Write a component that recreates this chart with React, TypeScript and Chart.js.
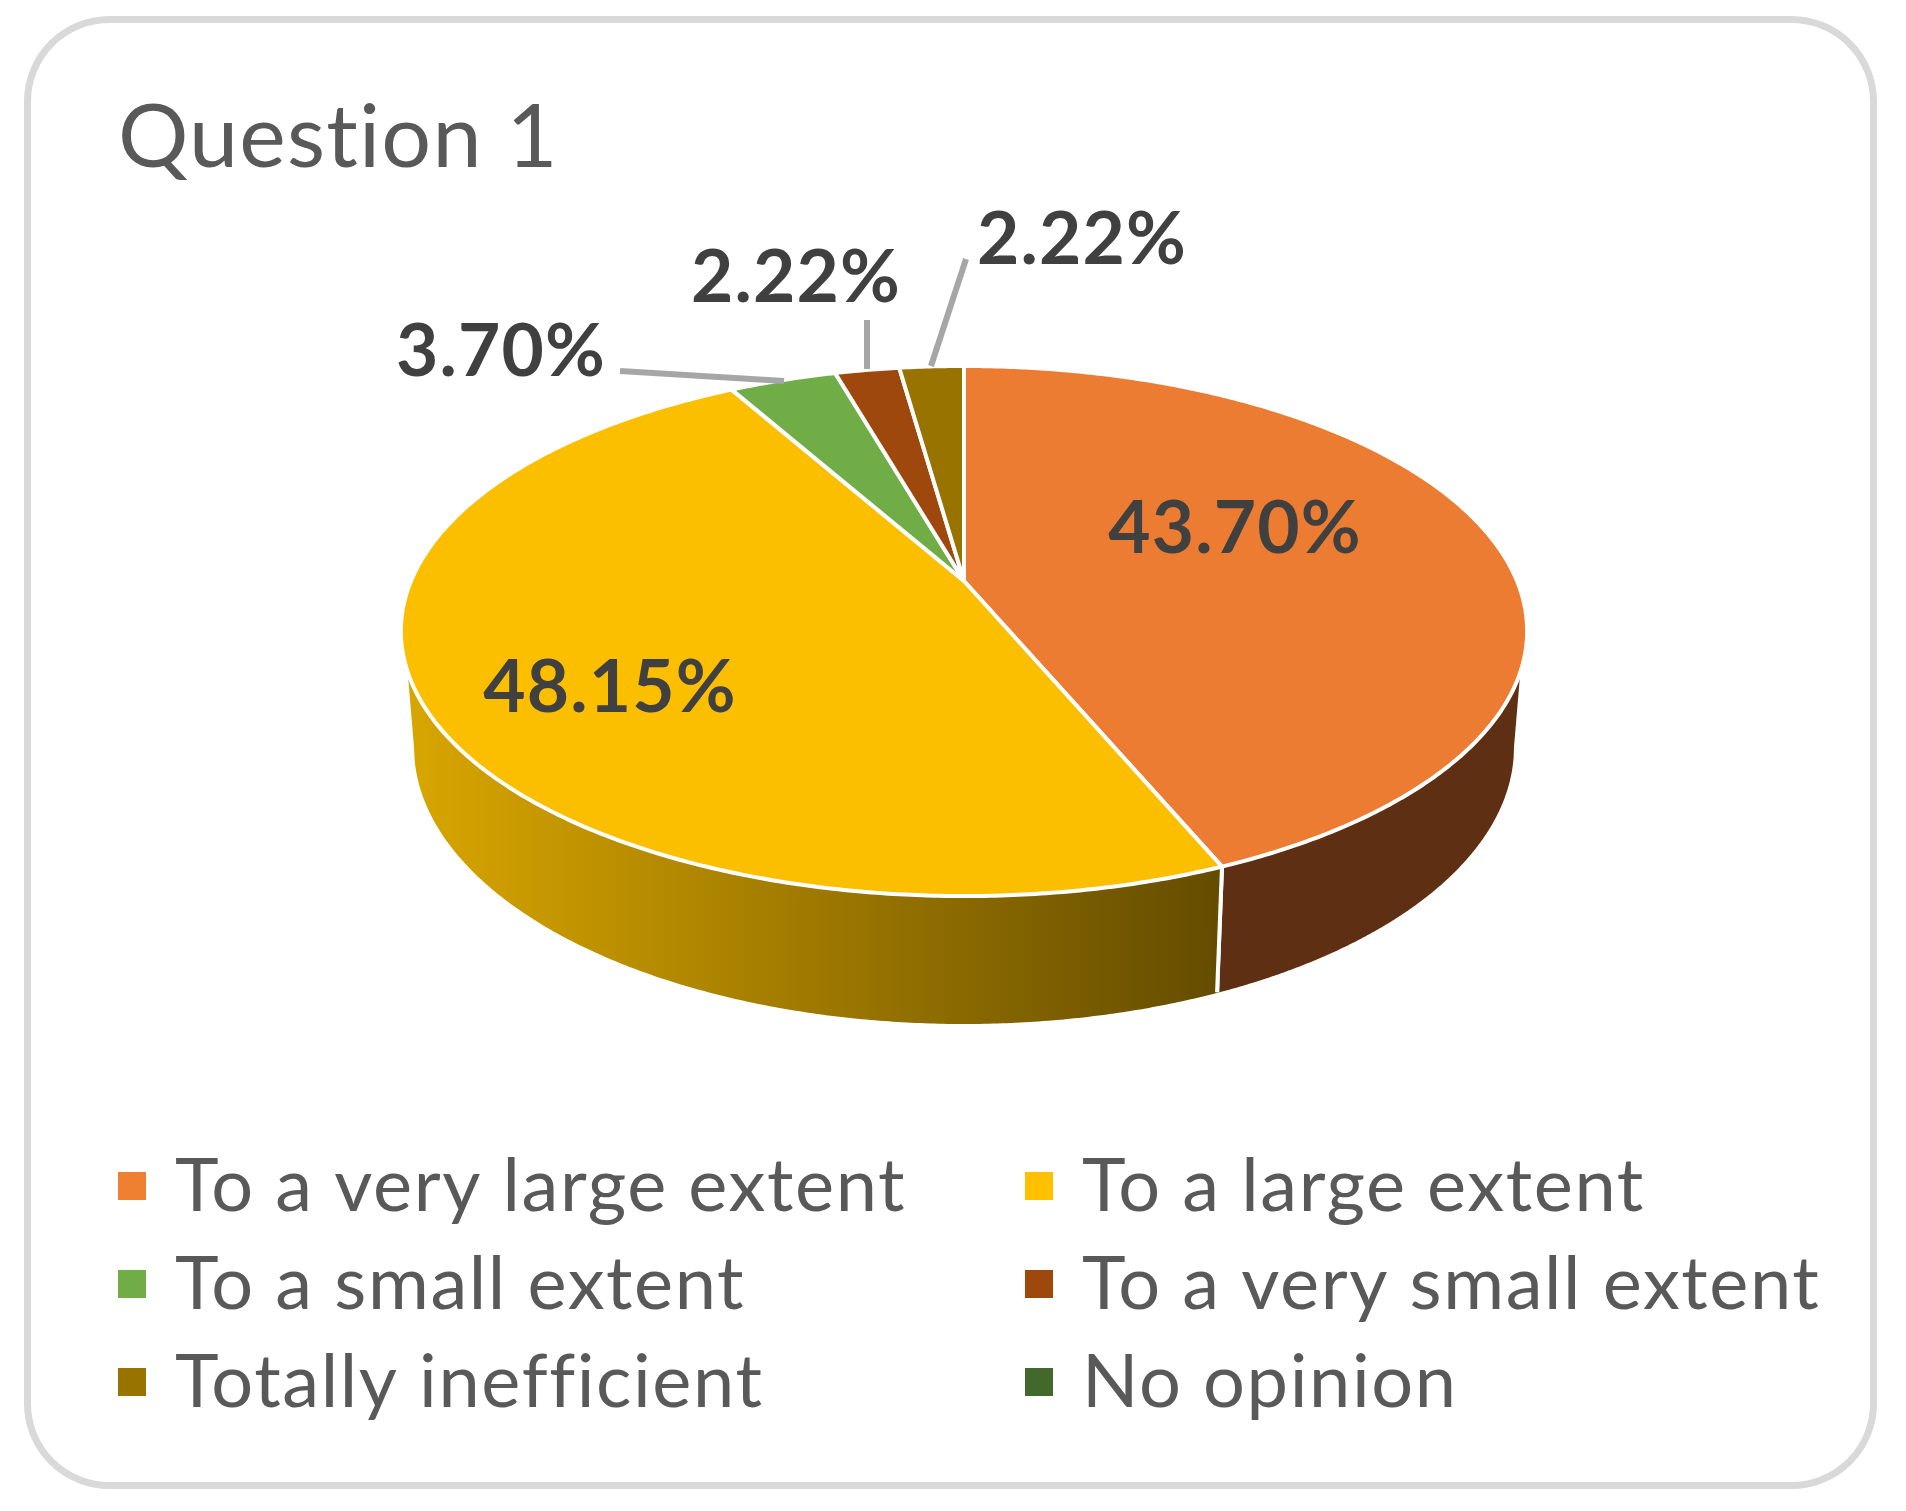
import React, { useEffect, useRef } from "react";
import { Chart, registerables } from "chart.js";

Chart.register(...registerables);

const categories = [
  "To a very large extent",
  "To a large extent",
  "To a small extent",
  "To a very small extent",
  "Totally inefficient",
  "No opinion",
];
const shares = [43.7, 48.15, 3.7, 2.22, 2.22, 0];
const sliceColors = ["#EB7C31", "#FBBF00", "#70AD47", "#9E480E", "#997300", "#43682B"];
const legendColors = ["#EF7F31", "#FFC000", "#70AD47", "#9E480E", "#997300", "#43682B"];
const wallColors: (string | string[])[] = ["#5F2F13", ["#D9A600", "#644C00"], "#3F6428", "#5F2B08", "#5C4500", "#28401A"];

// Placement of the data labels (text centre x, baseline y) and their leader lines.
const labelPlaces = [
  [1235, 553],
  [610, 712],
  [501, 376],
  [796, 302],
  [1082, 264],
  null,
];
const leaderLines = [
  null,
  null,
  [[620, 371], [784, 381]],
  [[867, 320], [867, 369]],
  [[966, 259], [931, 366]],
  null,
];

// Perspective of the disc: apex of the pie and projection constants.
const disc = { cx: 964, cy: 581, a: 553, b: 255.6, k: 0.1887 };
const base = { cy: 747, rx: 550, ry: 277 };
const wallFrom = (109.5 * Math.PI) / 180;
const wallTo = (250.5 * Math.PI) / 180;

const project = (t: number): [number, number] => {
  const u = Math.sin(t);
  const v = -Math.cos(t);
  const w = 1 - disc.k * v;
  return [disc.cx + (disc.a * u) / w, disc.cy + (disc.b * v) / w];
};
const cornerDx = Math.abs(project(wallFrom)[0] - disc.cx);
const projectBase = (t: number): [number, number] => {
  const dx = ((project(t)[0] - disc.cx) * base.rx) / cornerDx;
  const r = Math.sqrt(Math.max(0, 1 - (dx / base.rx) ** 2));
  return [disc.cx + dx, base.cy + base.ry * r];
};

const pie3d = {
  id: "pie3d",
  beforeDraw(chart: any) {
    const { ctx } = chart;
    ctx.save();
    ctx.fillStyle = "#FFFFFF";
    ctx.fillRect(0, 0, chart.width, chart.height);
    ctx.strokeStyle = "#D9D9D9";
    ctx.lineWidth = 7;
    ctx.beginPath();
    ctx.roundRect(27.5, 19.5, 1846, 1466, 82);
    ctx.stroke();
    ctx.restore();
    // spacing for the title, which the library draws right after this hook
    ctx.letterSpacing = "1.2px";
  },
  beforeDatasetDraw(chart: any, args: any) {
    const { ctx } = chart;
    ctx.letterSpacing = "0px";
    const meta = chart.getDatasetMeta(args.index);
    const angles = meta.data.map((arc: any) => {
      const p = arc.getProps(["startAngle", "endAngle"], true);
      return [p.startAngle + Math.PI / 2, p.endAngle + Math.PI / 2];
    });
    ctx.save();
    ctx.lineJoin = "round";
    // side wall
    angles.forEach(([s, e]: number[], i: number) => {
      const t0 = Math.max(s, wallFrom);
      const t1 = Math.min(e, wallTo);
      if (t1 <= t0) return;
      ctx.beginPath();
      const n = 240;
      for (let j = 0; j <= n; j++) {
        const p = project(t0 + ((t1 - t0) * j) / n);
        if (j === 0) ctx.moveTo(p[0], p[1]);
        else ctx.lineTo(p[0], p[1]);
      }
      for (let j = n; j >= 0; j--) {
        const p = projectBase(t0 + ((t1 - t0) * j) / n);
        ctx.lineTo(p[0], p[1]);
      }
      ctx.closePath();
      const c = wallColors[i];
      if (Array.isArray(c)) {
        const g = ctx.createLinearGradient(project(t1)[0], 0, project(t0)[0], 0);
        g.addColorStop(0, c[0]);
        g.addColorStop(1, c[1]);
        ctx.fillStyle = g;
      } else ctx.fillStyle = c;
      ctx.fill();
      if (t0 > wallFrom || t1 < wallTo) {
        ctx.strokeStyle = "#FFFFFF";
        ctx.lineWidth = 4;
        ctx.beginPath();
        const edge = t0 > wallFrom ? t0 : t1;
        const a = project(edge);
        const b = projectBase(edge);
        ctx.moveTo(a[0], a[1]);
        ctx.lineTo(b[0] - 2, b[1]);
        ctx.stroke();
      }
    });
    // top face
    angles.forEach(([s, e]: number[], i: number) => {
      if (e - s <= 0) return;
      ctx.beginPath();
      ctx.moveTo(disc.cx, disc.cy);
      const n = Math.max(8, Math.ceil((e - s) * 120));
      for (let j = 0; j <= n; j++) {
        const p = project(s + ((e - s) * j) / n);
        ctx.lineTo(p[0], p[1]);
      }
      ctx.closePath();
      ctx.fillStyle = sliceColors[i];
      ctx.fill();
      ctx.strokeStyle = "#FFFFFF";
      ctx.lineWidth = 4;
      ctx.stroke();
    });
    ctx.restore();
    return false;
  },
  afterDatasetsDraw(chart: any) {
    const { ctx } = chart;
    ctx.save();
    ctx.strokeStyle = "#A6A6A6";
    ctx.lineWidth = 6;
    leaderLines.forEach((l) => {
      if (!l) return;
      ctx.beginPath();
      ctx.moveTo(l[0][0], l[0][1]);
      ctx.lineTo(l[1][0], l[1][1]);
      ctx.stroke();
    });
    ctx.font = "bold 73px Lato";
    ctx.letterSpacing = "1.2px";
    ctx.fillStyle = "#404040";
    ctx.textAlign = "center";
    ctx.textBaseline = "alphabetic";
    shares.forEach((v, i) => {
      const at = labelPlaces[i];
      if (!at || v === 0) return;
      ctx.fillText(v.toFixed(2) + "%", at[0], at[1]);
    });
    // legend, two columns filled row by row
    ctx.font = "74px Lato";
    ctx.letterSpacing = "1.6px";
    ctx.textAlign = "left";
    const columns = [118, 1025];
    const rows = [1172, 1270, 1368];
    categories.forEach((name, i) => {
      const x = columns[i % 2];
      const y = rows[Math.floor(i / 2)];
      ctx.fillStyle = legendColors[i];
      ctx.fillRect(x, y, 28, 28);
      ctx.fillStyle = "#595959";
      ctx.fillText(name, x + 57, y + 38.5);
    });
    ctx.letterSpacing = "0px";
    ctx.restore();
  },
};

export default function App() {
  const ref = useRef<HTMLCanvasElement | null>(null);
  useEffect(() => {
    if (!ref.current) return;
    const chart = new Chart(ref.current, {
      type: "pie",
      data: {
        labels: categories,
        datasets: [{ data: shares, backgroundColor: sliceColors, borderWidth: 0 }],
      },
      options: {
        responsive: false,
        animation: false,
        devicePixelRatio: 1,
        layout: { padding: { left: 118, top: 86 } },
        plugins: {
          legend: { display: false },
          tooltip: { enabled: false },
          title: {
            display: true,
            text: "Question 1",
            align: "start",
            color: "#595959",
            font: { family: "Lato", size: 88, weight: "normal", lineHeight: 1.2 },
            padding: { top: 0, bottom: 0 },
          },
        },
      } as any,
      plugins: [pie3d],
    });
    return () => chart.destroy();
  }, []);
  return (
    <div style={{ position: "absolute", left: 0, top: 0, width: 1906, height: 1511 }}>
      <canvas ref={ref} width={1906} height={1511} style={{ display: "block" }} />
    </div>
  );
}
